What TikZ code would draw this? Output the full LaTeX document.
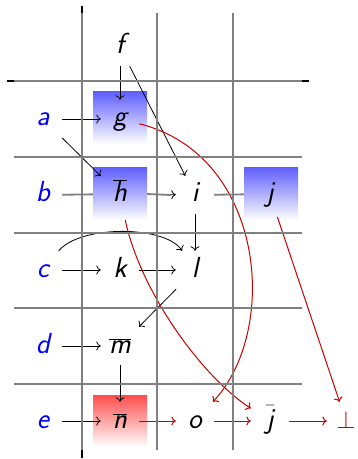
\documentclass[tikz,border=0pt]{standalone}
\usepackage{fontspec}
\usetikzlibrary{arrows.meta}
\definecolor{dred}{RGB}{200,0,0}
\definecolor{gline}{RGB}{128,128,128}
\definecolor{bluetop}{RGB}{96,96,255}
\definecolor{redtop}{RGB}{255,77,77}
\newcommand\ovl[1]{$\overline{\mbox{#1}}$}
\newcommand\brj[1]{$\bar{\mbox{#1}}$}
\begin{document}
\begin{tikzpicture}[x=1bp,y=1bp,
  lbl/.style={font=\fontsize{29bp}{34bp}\selectfont\sffamily\itshape,
    minimum width=38bp, minimum height=38bp, inner sep=0pt,
    text height=20bp, text depth=6bp},
  side/.style={lbl, text=blue},
  shbox/.style={minimum width=54bp, minimum height=52bp, inner sep=0pt,
    top color=#1, bottom color=white, draw=none},
  arr/.style={line width=0.8bp, -{To[length=4.5bp,width=9bp]}},
  rarr/.style={line width=1bp, draw=dred, -{To[length=4.5bp,width=9bp]}},
  gridl/.style={line width=1.8bp, draw=gline},
  tick/.style={line width=1.5bp, draw=black}
]
\useasboundingbox (0,0) rectangle (357,-459);
% shaded boxes
\node[shbox=bluetop] (gbox) at (120,-118) {};
\node[shbox=bluetop] (hbox) at (120,-194) {};
\node[shbox=bluetop] (jbox) at (271,-194) {};
\node[shbox=redtop] (nbox) at (120,-421) {};
% labels
\node[lbl] (f) at (120,-47) {f};
\node[side] (a) at (43,-119) {a};
\node[lbl] (g) at (120,-119) {g};
\node[side] (b) at (43,-195) {b};
\node[lbl] (h) at (120,-195) {\ovl{h}};
\node[lbl] (i) at (195,-195) {i};
\node[lbl] (j) at (270,-195) {j};
\node[side] (c) at (43,-270) {c};
\node[lbl] (k) at (120,-270) {k};
\node[lbl] (l) at (195,-270) {l};
\node[side] (d) at (43,-346) {d};
\node[lbl] (m) at (120,-346) {\ovl{m}};
\node[side] (e) at (43,-421) {e};
\node[lbl] (n) at (120,-421) {\ovl{n}};
\node[lbl] (o) at (195,-421) {o};
\node[lbl] (jb) at (270,-421) {\brj{j}};
\node[lbl, text=dred, font=\fontsize{29bp}{34bp}\selectfont] (bot) at (346,-421) {$\perp$};
% black arrows
\draw[arr] (f) -- (g);
\draw[arr] (a) -- (g);
\draw[arr] (a) -- (h);
\draw[arr] (f) -- (i);
\draw[arr] (hbox) -- (i);
\draw[arr] (i) -- (l);
\draw[arr] (c) -- (k);
\draw[arr] (k) -- (l);
\draw[arr] (c) .. controls (80,-225) and (165,-225) .. (l);
\draw[arr] (l) -- (m);
\draw[arr] (d) -- (m);
\draw[arr] (m) -- (n);
\draw[arr] (e) -- (n);
% red arrows
\draw[rarr] (g) .. controls (265,-155) and (280,-330) .. (o);
\draw[rarr, shorten <=6bp] (h) .. controls (140,-290) and (200,-375) .. (jb);
\draw[rarr, shorten <=3bp] (j) -- (bot);
\draw[rarr] (n) -- (o);
\draw[rarr] (o) -- (jb);
\draw[rarr] (jb) -- (bot);
% grid
\draw[tick] (7,-81) -- (309,-81);
\draw[tick] (82,-6) -- (82,-458);
\foreach \gx in {82,157,233} \draw[gridl] (\gx,-13) -- (\gx,-450);
\foreach \gy in {81,157,233,308,384} \draw[gridl] (14,-\gy) -- (302,-\gy);
% grey row segments
\draw[gridl] (b) -- (hbox);
\draw[gridl] (hbox.east) -- ([xshift=-5bp]i.west);
\draw[gridl] (i) -- (jbox);
\end{tikzpicture}
\end{document}
